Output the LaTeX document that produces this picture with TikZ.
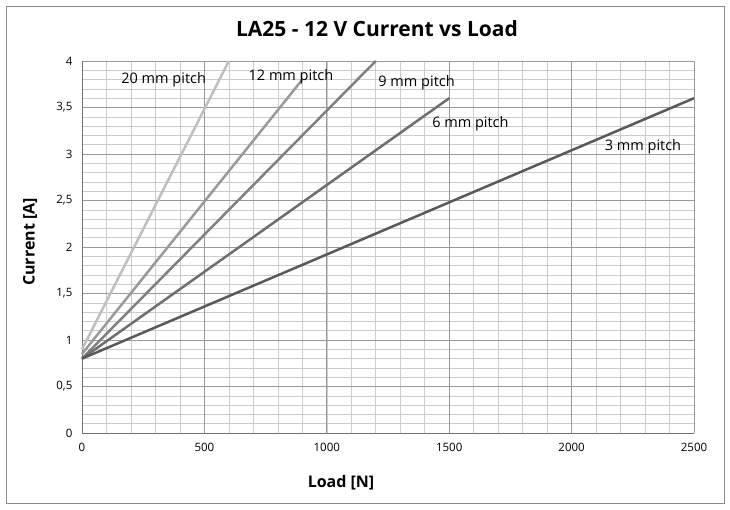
\documentclass[tikz,border=0pt]{standalone}
\usepackage{fontspec}
\setmainfont{Open Sans}
\begin{document}
\begin{tikzpicture}[x=1pt,y=-1pt,
  minorgrid/.style={draw=black!20,line width=0.6pt},
  majorgrid/.style={draw=black!40,line width=0.7pt},
  tick/.style={font=\fontsize{11.5}{13}\selectfont},
  curve/.style={line width=2.5pt},
  lbl/.style={font=\fontsize{14.5}{16}\selectfont,anchor=west,inner sep=0pt}]
\useasboundingbox (0,0) rectangle (730,509);
\draw[black!45,line width=0.8pt] (6,6) rectangle (724,503);
\node[font=\fontsize{21}{24}\selectfont\bfseries] (title) at (377,29) {LA25 - 12 V Current vs Load};
\begin{scope}[shift={(82,433)},x=0.24480pt,y=93pt]
  \foreach \i in {1,...,40}{\draw[minorgrid] (0,\i/10) -- (2500,\i/10);}
  \foreach \i in {1,...,25}{\draw[minorgrid] (\i*100,0) -- (\i*100,4);}
  \foreach \i in {1,...,8}{\draw[majorgrid] (0,\i/2) -- (2500,\i/2);}
  \foreach \i in {1,...,5}{\draw[majorgrid] (\i*500,0) -- (\i*500,4);}
  \draw[black!55,line width=0.8pt] (0,4) -- (0,0) -- (2500,0);
  \foreach \v/\t in {0/0,0.5/{0,5},1/1,1.5/{1,5},2/2,2.5/{2,5},3/3,3.5/{3,5},4/4}
    \node[tick,anchor=east] at (-25,\v) {\t};
  \foreach \v in {0,500,1000,1500,2000,2500}
    \node[tick,anchor=north] at (\v,-0.07) {\v};
  \coordinate (s0) at (0,0.8);
  \coordinate (s1) at (0,0.85);
  \coordinate (s2) at (0,0.9);
  \coordinate (e3) at (2500,3.6);
  \coordinate (e6) at (1500,3.6);
  \coordinate (e9) at (1200,4.0);
  \coordinate (e12) at (900,3.8);
  \coordinate (e20) at (600,4.0);
  \draw[curve,black!25] (s2) -- (e20);
  \draw[curve,black!40] (s1) -- (e12);
  \draw[curve,black!50] (s0) -- (e9);
  \draw[curve,black!57] (s0) -- (e6);
  \draw[curve,black!65] (s0) -- (e3);
  \node[lbl] (l20) at (160,3.8) {20 mm pitch};
  \node[lbl] (l12) at (680,3.83) {12 mm pitch};
  \node[lbl] (l9) at (1210,3.77) {9 mm pitch};
  \node[lbl] (l6) at (1430,3.33) {6 mm pitch};
  \node[lbl] (l3) at (2135,3.08) {3 mm pitch};
\end{scope}
\node[font=\fontsize{16}{18}\selectfont\bfseries] (xl) at (341,483) {Load [N]};
\node[font=\fontsize{16}{18}\selectfont\bfseries,rotate=90] (yl) at (30,242) {Current [A]};
\end{tikzpicture}
\end{document}
